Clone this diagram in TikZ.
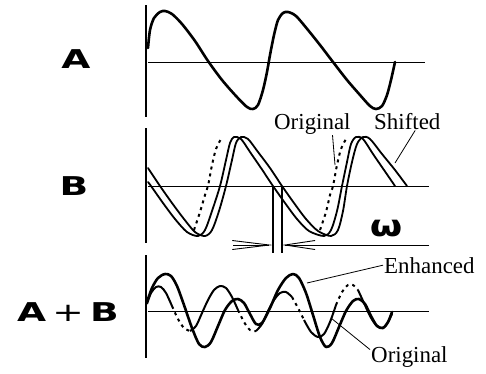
\documentclass[tikz,border=0pt]{standalone}
\usepackage{graphicx}
\usepackage{fontspec}
\setmainfont{Liberation Serif}
\newfontfamily\labfont{DejaVu Sans}
\usetikzlibrary{arrows.meta}

\begin{document}
\begin{tikzpicture}[x=1bp, y=-1bp,
  axis/.style={line width=2.6bp},
  zero/.style={line width=0.9bp},
  wave/.style={line width=2.6bp, line join=round, line cap=round},
  thin wave/.style={line width=1.8bp, line join=round, line cap=round},
  dots/.style={line width=2bp, dash pattern=on 3bp off 4bp},
  lbl/.style={font=\fontsize{23}{23}\selectfont, inner sep=1bp, anchor=base west},
  big/.style={font=\labfont\bfseries\fontsize{26}{26}\selectfont, inner sep=0pt},
  leader/.style={line width=0.8bp}]
\useasboundingbox (0,0) rectangle (486,373);

% row labels
\node[big] (labA) at (76,59) {\scalebox{1.45}[1]{A}};
\node[big] (labB) at (74,186) {\scalebox{1.45}[1]{B}};
\node[big] (labAB) at (68,312) {\scalebox{1.45}[1]{A\,{\mdseries+}\,B}};

% axes
\draw[axis] (146,5) -- (146,117);
\draw[zero] (148,62) -- (425,62);
\draw[axis] (146,128) -- (146,243);
\draw[zero] (148,186) -- (429,186);
\draw[axis] (146,255) -- (146,358);
\draw[zero] (148,311) -- (429,311);

% wave A
\draw[wave] plot[smooth, tension=0.5] coordinates {(148,48) (150,30) (154,18) (160,12) (165,11)
  (172,14) (182,24) (195,41) (208,61) (222,80) (236,96) (247,107) (253,109) (258,105) (263,90)
  (267,72) (270,55) (274,35) (278,20) (283,13) (288,12) (296,16) (308,30) (320,45) (333,62)
  (347,80) (360,95) (370,106) (376,109) (382,106) (387,95) (391,80) (395,62)};

% wave B: original and shifted
\draw[thin wave] plot[smooth, tension=0.5] coordinates {(148,182) (151,186) (163,203) (175,219)
  (187,232) (198,236) (205,230) (212,211) (220,186) (226,160) (230,143) (234,137) (241,139)
  (250,152) (261,168) (273,186) (285,203) (297,219) (309,231) (324,236) (331,230) (337,211)
  (342,186) (347,162) (351,144) (356,137) (363,139) (373,154) (384,170) (395,186)};
\draw[thin wave] plot[smooth, tension=0.5] coordinates {(148,168) (160,186) (172,203) (184,219)
  (195,232) (205,236) (212,230) (219,211) (226,186) (232,160) (236,143) (241,137) (248,139)
  (258,152) (270,168) (282,186) (294,203) (306,219) (318,231) (331,236) (338,230) (343,211)
  (347,186) (352,162) (357,144) (363,137) (370,139) (382,154) (395,170) (407,186)};
\draw[dots] plot[smooth] coordinates {(194,230) (200,212) (205,195) (208,186) (212,165) (216,149) (221,139)};
\draw[dots] plot[smooth] coordinates {(320,230) (326,212) (330,195) (333,186) (337,165) (341,149) (346,139)};

% shift marks
\coordinate (m1) at (273,186);
\coordinate (m2) at (282,186);
\draw[line width=1.4bp] (m1) -- ++(0,67) coordinate (m1b);
\draw[line width=1.4bp] (m2) -- ++(0,67) coordinate (m2b);
\coordinate (d1) at (233,245);
\coordinate (d2) at (429,245);
\draw[zero, -{Straight Barb[length=37bp, width=9bp]}] (d1) -- (m1 |- d1);
\draw[zero, -{Straight Barb[length=30bp, width=9bp]}] (d2) -- (m2 |- d2);
\node[font=\labfont\bfseries\fontsize{30}{30}\selectfont, inner sep=0pt] (omega) at (386,229) {\scalebox{1.25}[1]{ω}};

% wave A+B: enhanced
\draw[wave] plot[smooth, tension=0.5] coordinates {(147,302) (152,288) (158,278) (165,274)
  (171,276) (177,286) (184,305) (192,328) (199,344) (205,347) (211,342) (218,326) (225,310)
  (232,301) (238,299) (244,303) (250,314) (256,324) (262,323) (270,308) (278,290) (286,278)
  (293,274) (299,278) (306,293) (313,315) (320,337) (326,347) (332,343) (339,327) (346,311)
  (353,301) (359,299) (365,304) (371,316) (377,326) (383,328) (388,322) (392,312)};

% wave A+B: original
\draw[line width=2bp] plot[smooth] coordinates {(147,304) (151,293) (156,287) (161,287) (166,293) (172,306)};
\draw[dots] plot[smooth] coordinates {(172,306) (178,319) (184,328) (190,331)};
\draw[line width=2bp] plot[smooth] coordinates {(190,331) (196,326) (202,313) (208,300) (214,290)
  (220,286) (226,288) (232,297) (238,310)};
\draw[dots] plot[smooth] coordinates {(238,310) (244,322) (250,330) (256,331)};
\draw[line width=2bp] plot[smooth] coordinates {(256,331) (262,324) (268,311) (274,300) (280,293)
  (286,292) (292,297)};
\draw[dots] plot[smooth] coordinates {(292,297) (298,308) (304,320)};
\draw[line width=2bp] plot[smooth] coordinates {(304,320) (311,332) (318,337) (324,334) (330,322) (336,305)};
\draw[dots] plot[smooth] coordinates {(336,305) (342,292) (348,285) (353,285) (358,290)};
\draw[line width=2bp] plot[smooth] coordinates {(358,290) (364,303) (370,316) (376,325) (382,328)
  (387,324) (392,314)};

% labels and leaders
\node[lbl] (origB) at (273,129) {Original};
\node[lbl] (shiftB) at (373,129) {Shifted};
\node[lbl] (enh) at (383,273) {Enhanced};
\node[lbl] (origC) at (370,362) {Original};
\coordinate (pOrigB) at (335,165);
\coordinate (pShiftB) at (395,163);
\coordinate (pEnh) at (307,283);
\coordinate (pOrigC) at (331,318);
\draw[leader] (origB.-30) -- (pOrigB);
\draw[leader] (shiftB.-50) -- (pShiftB);
\draw[leader] (enh.west) -- (pEnh);
\draw[leader] (origC.170) -- (pOrigC);

\end{tikzpicture}
\end{document}
